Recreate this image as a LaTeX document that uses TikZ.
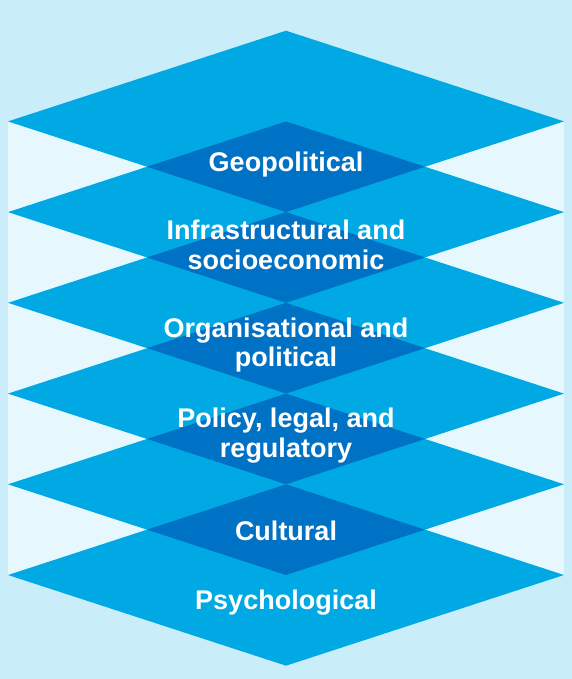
\documentclass[tikz,border=0pt]{standalone}
\usepackage{fontspec}
\setmainfont{Liberation Sans}

\definecolor{bgblue}{HTML}{C9EEFA}
\definecolor{paleblue}{HTML}{E6F8FE}
\definecolor{layerblue}{HTML}{00A9E4}
\definecolor{darkblue}{HTML}{0072C6}

\begin{document}
\begin{tikzpicture}[
  x=1pt, y=-1pt,
  layer/.style={
    fill=layerblue
  },
  overlap/.style={
    fill=darkblue
  },
  label/.style={
    text=white,
    inner sep=0pt,
    align=center,
    font=\fontsize{27}{29.5}\selectfont\bfseries
  }
]

\path[use as bounding box, fill=bgblue] (0,0) rectangle (572,679);
\fill[paleblue] (8,121.4) rectangle (564,575.0);

% big layers
\foreach \c in {121.4,212.1,302.8,393.6,484.3,575.0} {
  \path[layer] (286,{\c-90.7}) -- (564,\c) -- (286,{\c+90.7}) -- (8,\c) -- cycle;
}

% overlaps of neighbouring layers
\foreach \c in {121.4,212.1,302.8,393.6,484.3} {
  \path[overlap] (286,\c) -- (425,{\c+45.35}) -- (286,{\c+90.7}) -- (147,{\c+45.35}) -- cycle;
}

\node[label, anchor=base] (geo) at (286,171.7) {Geopolitical};
\node[label, anchor=base] (infra) at (286,269.3) {Infrastructural and\\socioeconomic};
\node[label, anchor=base] (org) at (286,366.7) {Organisational and\\political};
\node[label, anchor=base] (policy) at (286,457.3) {Policy, legal, and\\regulatory};
\node[label, anchor=base] (cult) at (286,540.7) {Cultural};
\node[label, anchor=base] (psych) at (286,609.3) {Psychological};

\end{tikzpicture}
\end{document}
